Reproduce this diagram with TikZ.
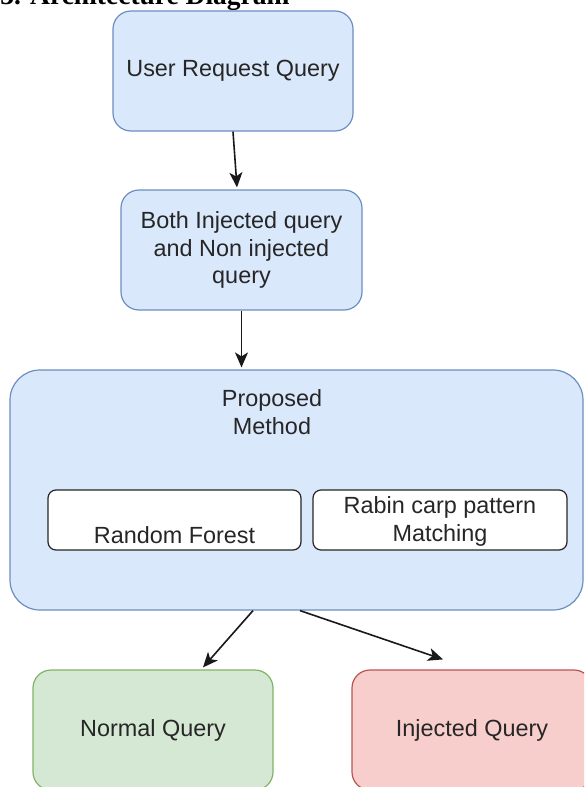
\documentclass[tikz,border=0pt]{standalone}
\usepackage{fontspec}
\setmainfont{Liberation Serif}
\setsansfont{Liberation Sans}
\usetikzlibrary{arrows.meta,calc,positioning}
\definecolor{blueFill}{HTML}{DAE8FC}
\definecolor{blueLine}{HTML}{6C8EBF}
\definecolor{greenFill}{HTML}{D5E8D4}
\definecolor{greenLine}{HTML}{82B366}
\definecolor{redFill}{HTML}{F8CECC}
\definecolor{redLine}{HTML}{B85450}
\tikzset{
  box/.style={draw=blueLine, fill=blueFill, rounded corners=9pt, line width=0.6pt,
    minimum width=120pt, minimum height=60pt, inner sep=0pt, align=center,
    text=black!85, font=\sffamily\fontsize{11.7}{13.8}\selectfont},
  subbox/.style={box, draw=black!85, fill=white, rounded corners=4pt,
    minimum height=30pt},
  flow/.style={-{Stealth[length=7.5pt,width=6.5pt,inset=2pt]}, line width=0.8pt, black!90}
}

\begin{document}
\begin{tikzpicture}[x=0.5pt,y=-0.5pt]
        % Page frame
        \clip (0,0) rectangle (584,787);
        % Heading
        \node[anchor=base west, inner sep=0pt, font=\bfseries\fontsize{13.75}{16}\selectfont]
          (title) at (0,4) {3. Architecture Diagram};
        % Input blocks
        \node[box] (ureq) at (233,71) {User Request Query};
        \node[box, minimum width=120.5pt] (both) at (241.5,250)
          {Both Injected query\\and Non injected\\query};
        % Method container
        \node[box, rounded corners=15pt, minimum width=286.5pt, minimum height=120pt]
          (method) at (296.5,490) {};
        \node[align=center, text=black!85, font=\sffamily\fontsize{11.7}{13.8}\selectfont]
          (methodtxt) at (272,412) {Proposed\\Method};
        \node[subbox, minimum width=126.5pt] (rf) at (174.5,520) {\strut\\Random Forest};
        \node[subbox, minimum width=127pt, text depth=1pt] (rabin) at (440,520) {Rabin carp pattern\\Matching};
        % Outputs
        \node[box, draw=greenLine, fill=greenFill] (normal) at (153,730) {Normal Query};
        \node[box, draw=redLine, fill=redFill] (injected) at (472,730) {Injected Query};
        % Arrows
        \draw[flow] (ureq.south) -- ([xshift=-2.25pt,yshift=1pt]both.north);
        \draw[flow] (both.south) -- ([yshift=1pt]both.south |- method.north);
        \draw[flow] ([xshift=-21.75pt]method.south) -- ([xshift=25pt,yshift=1pt]normal.north);
        \draw[flow] ([xshift=1.75pt]method.south) -- ([xshift=-14.5pt,yshift=5pt]injected.north);
\end{tikzpicture}
\end{document}
